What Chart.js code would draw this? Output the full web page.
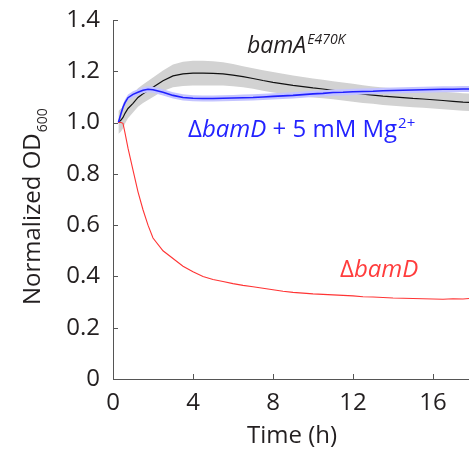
<!DOCTYPE html>
<html>
<head>
<meta charset="utf-8">
<script src="https://cdn.jsdelivr.net/npm/chart.js@4.4.1/dist/chart.umd.min.js"></script>
<style>
  html, body { margin: 0; padding: 0; background: #fff; }
  #wrap { width: 469px; height: 455px; }
</style>
</head>
<body>
<div id="wrap"><canvas id="odChart" width="469" height="455"></canvas></div>
<script>
/* =====================================================
   DATA
===================================================== */
const timeH = [0.27, 0.4, 0.5, 0.6, 0.75, 1.0, 1.25, 1.5, 1.75, 2.0, 2.5, 3.0, 3.5, 4.0, 4.5,
  5.0, 5.5, 6.0, 6.5, 7.0, 7.5, 8.0, 8.5, 9.0, 9.5, 10.0, 10.5, 11.0, 11.5, 12.0, 12.5,
  13.0, 13.5, 14.0, 14.5, 15.0, 15.5, 16.0, 16.5, 17.0, 17.5, 17.8];

const bamAMean = [1.0, 1.01, 1.02, 1.036, 1.055, 1.075, 1.098, 1.112, 1.125, 1.138, 1.163, 1.182, 1.19, 1.193, 1.193,
  1.192, 1.19, 1.185, 1.179, 1.172, 1.164, 1.157, 1.151, 1.145, 1.14, 1.135, 1.131, 1.126, 1.121, 1.116, 1.111,
  1.107, 1.103, 1.1, 1.097, 1.094, 1.092, 1.089, 1.086, 1.083, 1.08, 1.079];
const bamASd = [0.045, 0.045, 0.043, 0.04, 0.038, 0.036, 0.036, 0.036, 0.037, 0.038, 0.04, 0.044, 0.047, 0.048, 0.048,
  0.047, 0.045, 0.043, 0.041, 0.04, 0.04, 0.04, 0.039, 0.039, 0.038, 0.037, 0.036, 0.035, 0.035, 0.035, 0.035,
  0.034, 0.034, 0.034, 0.034, 0.034, 0.034, 0.034, 0.034, 0.034, 0.034, 0.034];

const mgMean = [1.0, 1.035, 1.06, 1.078, 1.097, 1.11, 1.118, 1.126, 1.13, 1.128, 1.118, 1.106, 1.098, 1.095, 1.094,
  1.094, 1.095, 1.096, 1.097, 1.098, 1.1, 1.102, 1.104, 1.106, 1.109, 1.112, 1.114, 1.117, 1.118, 1.12, 1.121,
  1.122, 1.124, 1.125, 1.126, 1.127, 1.128, 1.129, 1.13, 1.13, 1.131, 1.131];
const mgSd = [0.006, 0.01, 0.012, 0.012, 0.012, 0.012, 0.012, 0.012, 0.012, 0.012, 0.012, 0.012, 0.012, 0.012, 0.012,
  0.012, 0.012, 0.012, 0.012, 0.012, 0.012, 0.012, 0.012, 0.012, 0.012, 0.012, 0.012, 0.012, 0.012, 0.012, 0.012,
  0.012, 0.012, 0.012, 0.012, 0.012, 0.012, 0.012, 0.012, 0.012, 0.012, 0.012];

const bamDMean = [1.0, 1.0, 0.997, 0.96, 0.9, 0.815, 0.73, 0.66, 0.6, 0.55, 0.5, 0.47, 0.44, 0.418, 0.4,
  0.388, 0.38, 0.372, 0.365, 0.36, 0.354, 0.348, 0.342, 0.338, 0.335, 0.332, 0.33, 0.328, 0.326, 0.324, 0.321,
  0.32, 0.318, 0.316, 0.315, 0.314, 0.313, 0.312, 0.311, 0.313, 0.312, 0.314];

const xTicks = [0, 4, 8, 12, 16];
const yTicks = [0, 0.2, 0.4, 0.6, 0.8, 1.0, 1.2, 1.4];

/* =====================================================
   HELPERS
===================================================== */
const pts = (ys) => timeH.map((t, i) => ({ x: t, y: ys[i] }));
const upper = (m, s) => timeH.map((t, i) => ({ x: t, y: m[i] + s[i] }));
const lower = (m, s) => timeH.map((t, i) => ({ x: t, y: m[i] - s[i] }));

const FONT = "'Open Sans', 'Noto Sans', sans-serif";
const INK = "#231f20";
const AXIS = "#555";

/* =====================================================
   PLUGIN: axes, inward ticks, titles, labels
===================================================== */
const decor = {
  id: "decor",
  afterDatasetsDraw(chart) {
    const { ctx, chartArea: a, scales: { x, y } } = chart;
    ctx.save();

    // axis lines + inward ticks
    ctx.strokeStyle = AXIS;
    ctx.lineWidth = 1;
    ctx.beginPath();
    ctx.moveTo(a.left + 0.5, a.top);
    ctx.lineTo(a.left + 0.5, a.bottom + 0.5);
    ctx.lineTo(a.right, a.bottom + 0.5);
    xTicks.forEach(v => {
      const px = Math.round(x.getPixelForValue(v)) + 0.5;
      ctx.moveTo(px, a.bottom);
      ctx.lineTo(px, a.bottom - 5);
    });
    yTicks.forEach(v => {
      const py = Math.round(y.getPixelForValue(v)) + 0.5;
      ctx.moveTo(a.left, py);
      ctx.lineTo(a.left + 5, py);
    });
    ctx.stroke();

    // x title
    ctx.fillStyle = INK;
    ctx.font = `24px ${FONT}`;
    ctx.textAlign = "center";
    ctx.textBaseline = "alphabetic";
    ctx.fillText("Time (h)", (a.left + a.right) / 2 + 1, 443);

    // y title with subscript
    ctx.save();
    ctx.translate(40, 305);
    ctx.rotate(-Math.PI / 2);
    ctx.textAlign = "left";
    ctx.font = `24px ${FONT}`;
    const main = "Normalized OD";
    ctx.fillText(main, 0, 0);
    const w = ctx.measureText(main).width;
    ctx.font = `14px ${FONT}`;
    ctx.fillText("600", w + 1, 7);
    ctx.restore();

    // series labels, anchored in data space
    ctx.textAlign = "left";
    let px = x.getPixelForValue(6.7), py = y.getPixelForValue(1.271);
    ctx.fillStyle = INK;
    ctx.font = `italic 23px ${FONT}`;
    ctx.fillText("bamA", px, py);
    let wa = ctx.measureText("bamA").width;
    ctx.font = `italic 14px ${FONT}`;
    ctx.fillText("E470K", px + wa + 1, py - 9);

    px = x.getPixelForValue(3.75); py = y.getPixelForValue(0.945);
    ctx.fillStyle = "#2323ff";
    ctx.font = `24px ${FONT}`;
    ctx.fillText("\u0394", px, py);
    let cx = px + ctx.measureText("\u0394").width;
    ctx.font = `italic 24px ${FONT}`;
    ctx.fillText("bamD", cx, py);
    cx += ctx.measureText("bamD").width;
    ctx.font = `24px ${FONT}`;
    ctx.fillText(" + 5 mM Mg", cx, py);
    cx += ctx.measureText(" + 5 mM Mg").width;
    ctx.font = `15px ${FONT}`;
    ctx.fillText("2+", cx + 1, py - 9);

    px = x.getPixelForValue(11.35); py = y.getPixelForValue(0.397);
    ctx.fillStyle = "#ff3c3c";
    ctx.font = `24px ${FONT}`;
    ctx.fillText("\u0394", px, py);
    cx = px + ctx.measureText("\u0394").width;
    ctx.font = `italic 24px ${FONT}`;
    ctx.fillText("bamD", cx, py);

    ctx.restore();
  }
};

/* =====================================================
   CHART
===================================================== */
const line = (data, color, width, extra) => Object.assign({
  data, borderColor: color, borderWidth: width, pointRadius: 0, tension: 0, fill: false
}, extra || {});

new Chart(document.getElementById("odChart"), {
  type: "line",
  data: {
    datasets: [
      line(pts(bamDMean), "#ff3434", 1.1),
      line(pts(mgMean), "#2020ff", 1.6),
      line(upper(mgMean, mgSd), "rgba(0,0,0,0)", 0, { fill: "+1", backgroundColor: "#c4c4ff" }),
      line(lower(mgMean, mgSd), "rgba(0,0,0,0)", 0),
      line(pts(bamAMean), "#111", 1.2),
      line(upper(bamAMean, bamASd), "rgba(0,0,0,0)", 0, { fill: "+1", backgroundColor: "#d2d2d2" }),
      line(lower(bamAMean, bamASd), "rgba(0,0,0,0)", 0)
    ]
  },
  options: {
    responsive: false,
    animation: false,
    devicePixelRatio: 1,
    layout: { padding: { top: 20, right: 0, left: 0, bottom: 0 } },
    plugins: { legend: { display: false }, tooltip: { enabled: false } },
    scales: {
      x: {
        type: "linear",
        min: 0,
        max: 17.8,
        grid: { display: false },
        border: { display: false },
        ticks: {
          stepSize: 4,
          includeBounds: false,
          color: INK,
          padding: 2,
          maxRotation: 0,
          font: { family: FONT, size: 24 }
        },
        afterFit: s => { s.height = 76; }
      },
      y: {
        min: 0,
        max: 1.4,
        grid: { display: false },
        border: { display: false },
        ticks: {
          stepSize: 0.2,
          color: INK,
          padding: 5,
          font: { family: FONT, size: 24 },
          callback: v => (Math.abs(v) < 1e-9 ? "0" : v.toFixed(1))
        },
        afterFit: s => { s.width = 113; }
      }
    }
  },
  plugins: [decor]
});
</script>
</body>
</html>
